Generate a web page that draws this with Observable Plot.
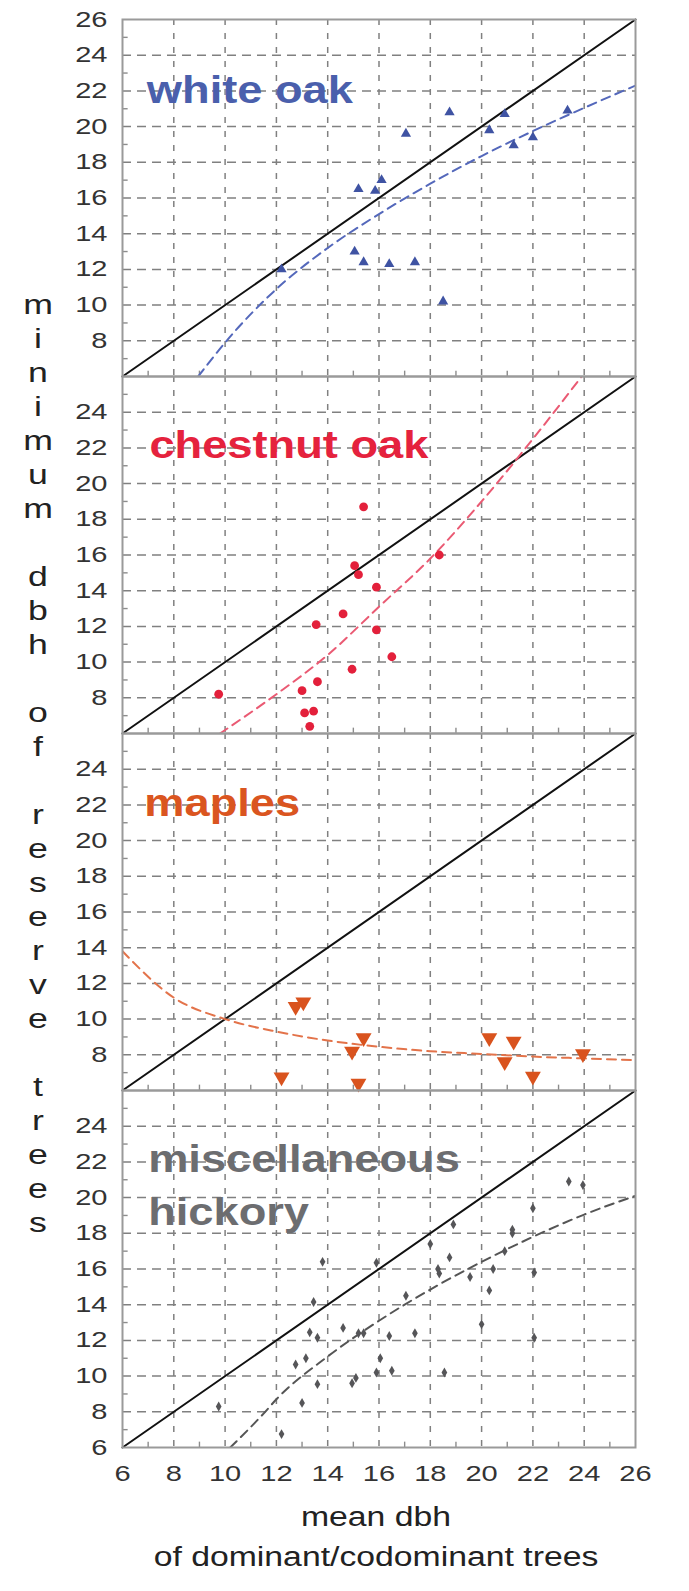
<!DOCTYPE html>
<html><head><meta charset="utf-8">
<script src="https://cdn.jsdelivr.net/npm/d3@7"></script>
<script src="https://cdn.jsdelivr.net/npm/@observablehq/plot@0.6"></script>
<style>
body{margin:0;background:#fff;font-family:"Liberation Sans",Arial,sans-serif;}
#wrap{position:relative;width:689px;height:1591px;overflow:hidden;background:#fff;}
#wrap svg{display:block;}
#xtitle{position:absolute;left:376px;top:1497px;transform:translateX(-50%) scaleX(1.25);white-space:nowrap;text-align:center;font-size:27px;line-height:40px;color:#222;}
</style></head><body><div id="wrap"><div id="xtitle">mean dbh<br>of dominant/codominant trees</div></div>
<script>
// ---- data ----
const panels = ["white oak", "chestnut oak", "maples", "hickory"];
const panelLabels = [["white oak"], ["chestnut oak"], ["maples"], ["miscellaneous", "hickory"]];
const xTicks = [6, 8, 10, 12, 14, 16, 18, 20, 22, 24, 26];
const gridValues = [8, 10, 12, 14, 16, 18, 20, 22, 24];
const minorValues = [7, 9, 11, 13, 15, 17, 19, 21, 23, 25];
const yTicksPanel = [
  [8, 10, 12, 14, 16, 18, 20, 22, 24, 26],
  [8, 10, 12, 14, 16, 18, 20, 22, 24],
  [8, 10, 12, 14, 16, 18, 20, 22, 24],
  [6, 8, 10, 12, 14, 16, 18, 20, 22, 24]
];
const oneToOne = [6, 26];

const whiteOakX = [12.2, 15.2, 15.85, 16.1, 17.05, 18.75, 20.3, 20.9, 21.25, 22.0, 23.35, 15.05, 15.4, 16.4, 17.4, 18.5];
const whiteOakY = [12.0, 16.5, 16.4, 17.0, 19.6, 20.8, 19.8, 20.7, 18.95, 19.4, 20.9, 13.0, 12.4, 12.3, 12.4, 10.2];
const whiteOakFitX = [8.95, 10, 12, 14, 16, 18, 20, 22, 24, 26];
const whiteOakFitY = [6.0, 7.9, 10.9, 13.2, 15.1, 16.8, 18.35, 19.75, 21.05, 22.3];

const chestnutX = [9.75, 13.0, 13.1, 13.45, 13.3, 13.6, 13.55, 14.6, 14.95, 15.05, 15.2, 15.4, 15.9, 15.9, 16.5, 18.35];
const chestnutY = [8.2, 8.4, 7.15, 7.25, 6.4, 8.9, 12.1, 12.7, 9.6, 15.4, 14.9, 18.7, 14.2, 11.8, 10.3, 16.0];
const chestnutFitX = [9.8, 12, 14, 16, 18, 20, 22, 23.9];
const chestnutFitY = [6.0, 8.2, 10.4, 13.1, 15.8, 19.0, 22.5, 26.0];

const maplesX = [12.2, 12.75, 13.05, 14.95, 15.4, 15.2, 20.3, 21.25, 20.9, 22.0, 23.95];
const maplesY = [6.75, 10.7, 10.95, 8.2, 8.95, 6.4, 8.95, 8.75, 7.6, 6.8, 8.05];
const maplesFitX = [6, 8, 10, 12, 14, 16, 18, 20, 22, 24, 26];
const maplesFitY = [13.8, 11.2, 10.0, 9.3, 8.8, 8.45, 8.2, 8.05, 7.9, 7.8, 7.7];

const hickoryX = [9.75, 12.2, 12.75, 13.15, 13.0, 13.3, 13.6, 13.45, 13.6, 13.8, 14.6, 14.95, 15.1, 15.2, 15.4, 15.9, 15.9, 16.05, 16.4, 16.5, 17.05, 17.4, 18.0, 18.3, 18.35, 18.55, 18.75, 18.9, 19.55, 20.0, 20.3, 20.45, 20.9, 21.2, 21.2, 22.0, 22.05, 22.05, 23.4, 23.95];
const hickoryY = [8.3, 6.75, 10.65, 11.0, 8.5, 12.45, 12.15, 14.15, 9.55, 16.4, 12.7, 9.6, 9.9, 12.4, 12.4, 16.35, 10.2, 11.0, 12.25, 10.3, 14.5, 12.4, 17.4, 16.0, 15.75, 10.2, 16.65, 18.5, 15.55, 12.9, 14.8, 16.0, 17.0, 18.0, 18.2, 19.4, 15.8, 12.15, 20.9, 20.7];
const hickoryFitX = [10.2, 11.5, 12, 14, 16, 18, 20, 22, 24, 26];
const hickoryFitY = [6.0, 7.9, 8.7, 11.1, 13.1, 14.85, 16.4, 17.8, 19.05, 20.1];

const yTitleLetters = ["m","i","n","i","m","u","m","d","b","h","o","f","r","e","s","e","r","v","e","t","r","e","e","s"];

// ---- styles / layout ----
const colors = {"white oak": "#3f53a3", "chestnut oak": "#e3203b", "maples": "#d9531e", "hickory": "#555558"};
const textColors = {"white oak": "#4a5fac", "chestnut oak": "#e5223d", "maples": "#da5520", "hickory": "#6c6d70"};
const fitColors = {"white oak": "#5468bb", "chestnut oak": "#ea5a73", "maples": "#e3734a", "hickory": "#555"};
const labelLayout = [{x: 6.95, y: [22.0]}, {x: 7.05, y: [22.1]}, {x: 6.85, y: [22.05]}, {x: 7.0, y: [22.1, 19.15]}];
const yTitleY = [305, 339, 373, 407, 441, 475, 509, 577, 611, 645, 713, 747, 815, 849, 883, 917, 951, 985, 1019, 1087, 1121, 1155, 1189, 1223];

const triUp = {draw(ctx, size) { const a = Math.sqrt(4 * size / Math.sqrt(3)); const h = a * Math.sqrt(3) / 2; ctx.moveTo(0, -2 * h / 3); ctx.lineTo(a / 2, h / 3); ctx.lineTo(-a / 2, h / 3); ctx.closePath(); }};
const triDown = {draw(ctx, size) { const a = Math.sqrt(4 * size / Math.sqrt(3)); const h = a * Math.sqrt(3) / 2; ctx.moveTo(0, 2 * h / 3); ctx.lineTo(a / 2, -h / 3); ctx.lineTo(-a / 2, -h / 3); ctx.closePath(); }};

const pts = (panel, xs, ys) => xs.map((x, i) => ({panel, x, y: ys[i]}));
const fits = [
  pts("white oak", whiteOakFitX, whiteOakFitY),
  pts("chestnut oak", chestnutFitX, chestnutFitY),
  pts("maples", maplesFitX, maplesFitY),
  pts("hickory", hickoryFitX, hickoryFitY)
];
const yTickRows = panels.flatMap((p, i) => yTicksPanel[i].map(v => ({panel: p, v})));
const labelRows = panels.flatMap((p, i) => panelLabels[i].map((t, j) => ({panel: p, text: t, x: labelLayout[i].x, y: labelLayout[i].y[j]})));

const dotOpts = (panel, symbol, r) => ({x: "x", y: "y", fy: "panel", symbol, r, fill: colors[panel], stroke: "none"});

const chart = Plot.plot({
  width: 689, height: 1498,
  marginLeft: 122, marginRight: 54, marginTop: 18, marginBottom: 50,
  style: {fontFamily: "'Liberation Sans', Arial, sans-serif", background: "#fff", color: "#333"},
  x: {domain: [6, 26]},
  y: {domain: [6, 26], axis: null},
  fy: {domain: panels, padding: 0, axis: null},
  marks: [
    Plot.ruleY(gridValues, {stroke: "#808080", strokeWidth: 1.5, strokeDasharray: "9,6"}),
    Plot.ruleX(gridValues, {stroke: "#808080", strokeWidth: 1.5, strokeDasharray: "6,8"}),
    Plot.ruleY(minorValues, {x1: 6, x2: 6.22, stroke: "#8c8c8c", strokeWidth: 1.4}),
    Plot.ruleX(minorValues, {y1: 6, y2: 6.3, stroke: "#8c8c8c", strokeWidth: 1.4}),
    Plot.text(labelRows, {x: "x", y: "y", fy: "panel", text: "text", textAnchor: "start", fontSize: 38, fontWeight: "bold", fill: d => textColors[d.panel]}),
    Plot.line(oneToOne, {x: d => d, y: d => d, stroke: "#111", strokeWidth: 2}),
    ...fits.map(f => Plot.line(f, {x: "x", y: "y", fy: "panel", curve: "monotone-x", stroke: fitColors[f[0].panel], strokeWidth: 2, strokeDasharray: "9,6", clip: true})),
    Plot.dot(pts("white oak", whiteOakX, whiteOakY), dotOpts("white oak", triUp, 3.8)),
    Plot.dot(pts("chestnut oak", chestnutX, chestnutY), dotOpts("chestnut oak", "circle", 4.4)),
    Plot.dot(pts("maples", maplesX, maplesY), dotOpts("maples", triDown, 5.9)),
    Plot.dot(pts("hickory", hickoryX, hickoryY), dotOpts("hickory", "diamond", 3)),
    Plot.frame({stroke: "#9a9a9a", strokeWidth: 2}),
    Plot.text(yTickRows, {fy: "panel", y: "v", text: d => String(d.v), frameAnchor: "left", dx: -15, textAnchor: "end", fontSize: 22, fill: "#333"}),
    Plot.axisX(xTicks, {tickSize: 0, tickPadding: 18, fontSize: 22, label: null, anchor: "bottom", fill: "#333"})
  ]
});

const wrap = document.getElementById("wrap");
wrap.prepend(chart);
const svg = d3.select(chart);
svg.append("g").attr("font-size", 27).attr("fill", "#222").attr("text-anchor", "middle")
  .selectAll("text").data(yTitleLetters).join("text")
  .attr("x", 38).attr("y", (d, i) => yTitleY[i]).attr("dy", "0.35em").text(d => d);

for (const t of chart.querySelectorAll("text")) {
  const fs = parseFloat(getComputedStyle(t).fontSize);
  const k = fs >= 30 ? 1.19 : 1.32;
  const w = t.getComputedTextLength();
  if (w > 0) { t.setAttribute("textLength", w * k); t.setAttribute("lengthAdjust", "spacingAndGlyphs"); }
}
</script></body></html>
